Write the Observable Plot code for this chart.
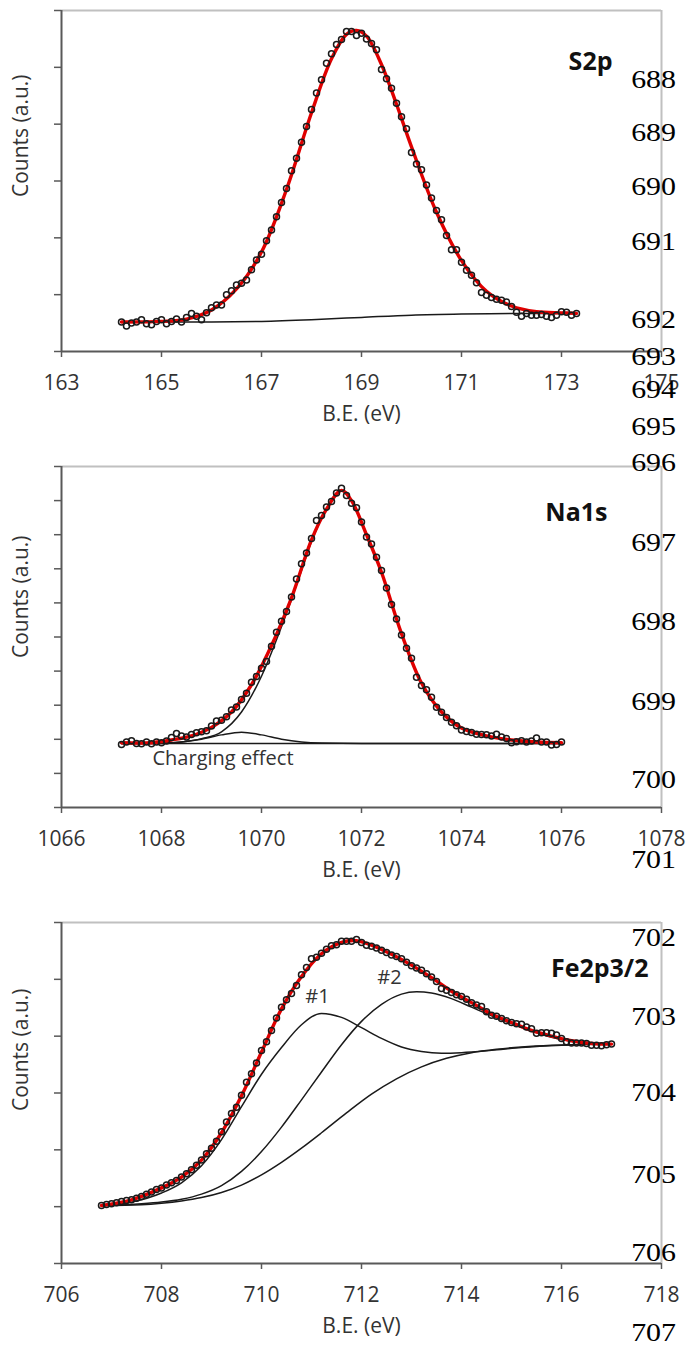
<!DOCTYPE html>
<html><head><meta charset="utf-8">
<script src="https://cdn.jsdelivr.net/npm/d3@7"></script>
<script src="https://cdn.jsdelivr.net/npm/@observablehq/plot@0.6"></script>
<style>
html,body{margin:0;padding:0;background:#fff;}
#wrap{position:relative;width:688px;height:1349px;overflow:hidden;}
#wrap svg{display:block;}
.ln{position:absolute;right:12px;font-family:"Liberation Serif","Times New Roman",serif;font-size:26px;line-height:26px;color:#000;transform:translateY(-50%) scaleX(1.15);transform-origin:right center;white-space:nowrap;}
</style></head><body><div id="wrap"></div>
<script>
// ---------- S2p ----------
const s2pPoints = [[164.2,0.52],[164.3,0.45],[164.4,0.50],[164.5,0.52],[164.6,0.56],[164.7,0.49],[164.8,0.47],[164.9,0.53],[165.0,0.56],[165.1,0.49],[165.2,0.53],[165.3,0.57],[165.4,0.52],[165.5,0.60],[165.6,0.67],[165.7,0.62],[165.8,0.56],[165.9,0.68],[166.0,0.77],[166.1,0.82],[166.2,0.82],[166.3,1.00],[166.4,1.07],[166.5,1.17],[166.6,1.20],[166.7,1.26],[166.8,1.44],[166.9,1.61],[167.0,1.71],[167.1,1.95],[167.2,2.14],[167.3,2.37],[167.4,2.62],[167.5,2.87],[167.6,3.18],[167.7,3.40],[167.8,3.68],[167.9,3.96],[168.0,4.26],[168.1,4.55],[168.2,4.78],[168.3,5.07],[168.4,5.24],[168.5,5.40],[168.6,5.49],[168.7,5.63],[168.8,5.63],[168.9,5.56],[169.0,5.60],[169.1,5.50],[169.2,5.42],[169.3,5.31],[169.4,4.96],[169.5,4.80],[169.6,4.63],[169.7,4.37],[169.8,4.13],[169.9,3.92],[170.0,3.50],[170.1,3.30],[170.2,3.20],[170.3,2.93],[170.4,2.70],[170.5,2.48],[170.6,2.32],[170.7,2.04],[170.8,1.79],[170.9,1.79],[171.0,1.57],[171.1,1.43],[171.2,1.34],[171.3,1.21],[171.4,1.04],[171.5,0.99],[171.6,0.95],[171.7,0.92],[171.8,0.90],[171.9,0.87],[172.0,0.79],[172.1,0.69],[172.2,0.62],[172.3,0.67],[172.4,0.64],[172.5,0.64],[172.6,0.65],[172.7,0.62],[172.8,0.60],[172.9,0.64],[173.0,0.70],[173.1,0.69],[173.2,0.64],[173.3,0.67]];
const s2pFit = [[164.2,0.52],[165.0,0.53],[165.5,0.57],[166.0,0.73],[166.5,1.1],[167.0,1.75],[167.5,2.85],[168.0,4.2],[168.4,5.15],[168.7,5.58],[168.9,5.65],[169.1,5.55],[169.4,5.05],[169.7,4.35],[170.0,3.6],[170.5,2.45],[171.0,1.6],[171.5,1.06],[172.0,0.8],[172.5,0.7],[173.0,0.68],[173.3,0.67]];
const s2pBackground = [[164.2,0.52],[166.0,0.52],[167.0,0.53],[168.0,0.56],[169.0,0.60],[170.0,0.64],[171.0,0.66],[172.0,0.67],[173.3,0.67]];
const s2pXTicks = [163,165,167,169,171,173,175];

// ---------- Na1s ----------
const na1sPoints = [[1067.2,1.85],[1067.3,1.92],[1067.4,1.96],[1067.5,1.88],[1067.6,1.87],[1067.7,1.92],[1067.8,1.87],[1067.9,1.92],[1068.0,1.90],[1068.1,1.95],[1068.2,2.05],[1068.3,2.17],[1068.4,2.10],[1068.5,2.07],[1068.6,2.14],[1068.7,2.19],[1068.8,2.22],[1068.9,2.25],[1069.0,2.39],[1069.1,2.54],[1069.2,2.56],[1069.3,2.66],[1069.4,2.86],[1069.5,2.95],[1069.6,3.17],[1069.7,3.35],[1069.8,3.67],[1069.9,3.84],[1070.0,4.08],[1070.1,4.28],[1070.2,4.73],[1070.3,5.14],[1070.4,5.46],[1070.5,5.75],[1070.6,6.17],[1070.7,6.70],[1070.8,7.15],[1070.9,7.46],[1071.0,7.89],[1071.1,8.42],[1071.2,8.56],[1071.3,8.81],[1071.4,8.97],[1071.5,9.22],[1071.6,9.36],[1071.7,9.15],[1071.8,8.92],[1071.9,8.79],[1072.0,8.37],[1072.1,7.93],[1072.2,7.73],[1072.3,7.34],[1072.4,6.95],[1072.5,6.44],[1072.6,5.95],[1072.7,5.53],[1072.8,5.06],[1072.9,4.67],[1073.0,4.38],[1073.1,3.82],[1073.2,3.58],[1073.3,3.45],[1073.4,3.23],[1073.5,2.94],[1073.6,2.79],[1073.7,2.64],[1073.8,2.50],[1073.9,2.40],[1074.0,2.27],[1074.1,2.23],[1074.2,2.20],[1074.3,2.15],[1074.4,2.14],[1074.5,2.13],[1074.6,2.10],[1074.7,2.15],[1074.8,2.07],[1074.9,2.02],[1075.0,1.90],[1075.1,1.93],[1075.2,1.96],[1075.3,1.92],[1075.4,1.95],[1075.5,2.04],[1075.6,1.92],[1075.7,1.92],[1075.8,1.83],[1075.9,1.85],[1076.0,1.92]];
const na1sFit = [[1067.2,1.9],[1067.8,1.9],[1068.2,1.98],[1068.6,2.1],[1069.0,2.35],[1069.4,2.8],[1069.8,3.6],[1070.2,4.75],[1070.6,6.15],[1071.0,7.85],[1071.3,8.75],[1071.6,9.3],[1071.8,9.0],[1072.1,8.0],[1072.4,6.9],[1072.8,5.1],[1073.2,3.65],[1073.6,2.8],[1074.0,2.33],[1074.5,2.1],[1075.0,1.98],[1075.5,1.92],[1076.0,1.9]];
const na1sMain = [[1067.2,1.88],[1068.0,1.88],[1068.4,1.92],[1068.8,2.02],[1069.2,2.22],[1069.6,2.8],[1070.0,3.85],[1070.4,5.3],[1070.8,6.95],[1071.0,7.8],[1071.3,8.75],[1071.6,9.3],[1071.8,9.0],[1072.1,8.0],[1072.4,6.9],[1072.8,5.1],[1073.2,3.65],[1073.6,2.8],[1074.0,2.33],[1074.5,2.1],[1075.0,1.98],[1075.5,1.92],[1076.0,1.9]];
const na1sCharging = [[1067.2,1.88],[1068.0,1.89],[1068.4,1.92],[1068.8,2.0],[1069.2,2.13],[1069.6,2.21],[1070.0,2.13],[1070.4,2.0],[1070.8,1.92],[1071.2,1.89],[1072.0,1.88],[1076.0,1.88]];
const na1sBackground = [[1067.2,1.88],[1076.0,1.88]];
const na1sXTicks = [1066,1068,1070,1072,1074,1076,1078];

// ---------- Fe2p3/2 ----------
const fePoints = [[706.8,1.02],[706.9,1.04],[707.0,1.05],[707.1,1.07],[707.2,1.09],[707.3,1.11],[707.4,1.12],[707.5,1.15],[707.6,1.18],[707.7,1.22],[707.8,1.26],[707.9,1.30],[708.0,1.33],[708.1,1.38],[708.2,1.42],[708.3,1.46],[708.4,1.52],[708.5,1.58],[708.6,1.65],[708.7,1.73],[708.8,1.82],[708.9,1.93],[709.0,2.03],[709.1,2.15],[709.2,2.32],[709.3,2.49],[709.4,2.64],[709.5,2.75],[709.6,2.96],[709.7,3.19],[709.8,3.34],[709.9,3.53],[710.0,3.75],[710.1,3.90],[710.2,4.10],[710.3,4.32],[710.4,4.51],[710.5,4.64],[710.6,4.75],[710.7,4.89],[710.8,5.08],[710.9,5.21],[711.0,5.36],[711.1,5.39],[711.2,5.46],[711.3,5.53],[711.4,5.59],[711.5,5.61],[711.6,5.67],[711.7,5.67],[711.8,5.67],[711.9,5.70],[712.0,5.65],[712.1,5.60],[712.2,5.58],[712.3,5.55],[712.4,5.51],[712.5,5.47],[712.6,5.43],[712.7,5.40],[712.8,5.36],[712.9,5.30],[713.0,5.24],[713.1,5.20],[713.2,5.16],[713.3,5.10],[713.4,5.04],[713.5,4.96],[713.6,4.84],[713.7,4.81],[713.8,4.77],[713.9,4.73],[714.0,4.70],[714.1,4.65],[714.2,4.59],[714.3,4.55],[714.4,4.52],[714.5,4.43],[714.6,4.37],[714.7,4.35],[714.8,4.31],[714.9,4.27],[715.0,4.24],[715.1,4.22],[715.2,4.21],[715.3,4.16],[715.4,4.13],[715.5,4.05],[715.6,4.06],[715.7,4.06],[715.8,4.05],[715.9,4.02],[716.0,3.96],[716.1,3.90],[716.2,3.88],[716.3,3.88],[716.4,3.88],[716.5,3.87],[716.6,3.84],[716.7,3.84],[716.8,3.83],[716.9,3.85],[717.0,3.86]];
const feFit = [[706.8,1.02],[707.4,1.12],[708.0,1.33],[708.4,1.52],[708.8,1.82],[709.2,2.3],[709.6,2.95],[710.0,3.72],[710.4,4.48],[710.8,5.05],[711.2,5.45],[711.6,5.65],[711.9,5.68],[712.2,5.6],[712.6,5.44],[713.0,5.25],[713.4,5.03],[713.8,4.79],[714.2,4.59],[714.6,4.39],[715.0,4.24],[715.4,4.1],[715.8,4.0],[716.2,3.92],[716.6,3.87],[717.0,3.86]];
const fePeak1 = [[706.8,1.02],[707.4,1.08],[708.0,1.24],[708.4,1.42],[708.8,1.72],[709.2,2.18],[709.6,2.76],[710.0,3.33],[710.4,3.8],[710.8,4.2],[711.2,4.4],[711.6,4.33],[712.0,4.15],[712.4,3.96],[712.8,3.81],[713.2,3.73],[713.6,3.7],[714.0,3.71],[714.6,3.75],[715.2,3.8],[716.0,3.84],[717.0,3.86]];
const fePeak2 = [[706.8,1.02],[707.6,1.05],[708.0,1.08],[708.4,1.13],[708.8,1.22],[709.2,1.37],[709.6,1.62],[710.0,1.97],[710.4,2.4],[710.8,2.88],[711.2,3.37],[711.6,3.85],[712.0,4.26],[712.4,4.56],[712.8,4.74],[713.1,4.78],[713.4,4.76],[713.8,4.66],[714.2,4.51],[714.6,4.36],[715.0,4.22],[715.4,4.09],[715.8,3.98],[716.2,3.91],[716.6,3.87],[717.0,3.86]];
const feBackground = [[706.8,1.02],[707.6,1.035],[708.0,1.06],[708.4,1.1],[708.8,1.16],[709.2,1.25],[709.6,1.38],[710.0,1.56],[710.4,1.78],[710.8,2.03],[711.2,2.3],[711.7,2.65],[712.2,2.98],[712.7,3.25],[713.2,3.46],[713.7,3.61],[714.2,3.71],[714.7,3.77],[715.2,3.81],[715.8,3.84],[716.4,3.855],[717.0,3.86]];
const feXTicks = [706,708,710,712,714,716,718];

// stray line numbers on the right margin of the source page
const lineNumbers = ["688","689","690","691","692","693","694","695","696","697","698","699","700","701","702","703","704","705","706","707"];

// ---------- layout (not data) ----------
const lineNumberY = [80,133,187,242,320,357,390,427,463,543,622,702,780,860,938,1017,1093,1175,1253,1333];
const FONT = "'Open Sans', 'Liberation Sans', sans-serif";
const X = d => d[0], Y = d => d[1];

function panel(o) {
  const marks = [
    Plot.ruleY([o.yMax], {stroke: "#c0c0c0", strokeWidth: 2}),
    Plot.ruleX([o.xDomain[1]], {stroke: "#c0c0c0", strokeWidth: 2}),
    Plot.axisY({ticks: d3.range(0, o.yMax + 1), tickSize: 7, tickFormat: () => "", stroke: "#595959", strokeWidth: 1.5, label: null}),
    Plot.axisX({ticks: o.xTicks, tickSize: 6, tickPadding: 18, stroke: "#595959", strokeWidth: 1.5, fill: "#333", fontSize: 21, label: null, tickFormat: d => String(d)}),
    Plot.ruleX([o.xDomain[0]], {stroke: "#595959", strokeWidth: 2}),
    Plot.ruleY([0], {stroke: "#595959", strokeWidth: 2}),
  ];
  for (const ln of o.lines) marks.push(Plot.line(ln, {x: X, y: Y, curve: "monotone-x", stroke: "#1a1a1a", strokeWidth: 1.5}));
  marks.push(Plot.line(o.fit, {x: X, y: Y, curve: "catmull-rom", stroke: "#e00000", strokeWidth: 3.4}));
  marks.push(Plot.dot(o.points, {x: X, y: Y, r: 3, stroke: "#1a1a1a", strokeWidth: 1.5, fill: "none"}));
  marks.push(Plot.text(["B.E. (eV)"], {frameAnchor: "bottom", dy: 69, fontSize: 21, fill: "#333"}));
  marks.push(Plot.text(["Counts (a.u.)"], {frameAnchor: "left", dx: -40, dy: o.ylabelDy, rotate: -90, fontSize: 21, fill: "#333"}));
  marks.push(Plot.text([o.title], {frameAnchor: "top-right", dx: o.titleDx, dy: o.titleDy, textAnchor: "end", fontWeight: "bold", fontSize: 25, fill: "#111"}));
  for (const a of (o.notes || [])) marks.push(Plot.text([a], {x: "x", y: "y", text: "text", textAnchor: a.anchor || "middle", fontSize: 20, fill: "#333"}));
  return Plot.plot({
    width: 688, height: 456,
    marginLeft: 61, marginRight: 27, marginTop: 10, marginBottom: 105,
    style: {fontFamily: FONT, background: "transparent", overflow: "visible"},
    x: {domain: o.xDomain},
    y: {domain: [0, o.yMax]},
    marks
  });
}

const wrap = document.getElementById("wrap");
wrap.append(panel({xDomain: [163, 175], xTicks: s2pXTicks, yMax: 6, points: s2pPoints, fit: s2pFit, lines: [s2pBackground], title: "S2p", titleDx: -49, titleDy: 42, ylabelDy: 16}));
wrap.append(panel({xDomain: [1066, 1078], xTicks: na1sXTicks, yMax: 10, points: na1sPoints, fit: na1sFit, lines: [na1sBackground, na1sCharging, na1sMain], title: "Na1s", titleDx: -54, titleDy: 37, ylabelDy: 21,
  notes: [{x: 1067.82, y: 1.44, text: "Charging effect", anchor: "start"}]}));
wrap.append(panel({xDomain: [706, 718], xTicks: feXTicks, yMax: 6, points: fePoints, fit: feFit, lines: [feBackground, fePeak1, fePeak2], title: "Fe2p3/2", titleDx: -13, titleDy: 37, ylabelDy: 18,
  notes: [{x: 711.12, y: 4.69, text: "#1"}, {x: 712.56, y: 5.03, text: "#2"}]}));

lineNumbers.forEach((t, i) => {
  const s = document.createElement("div");
  s.className = "ln";
  s.textContent = t;
  s.style.top = lineNumberY[i] + "px";
  wrap.append(s);
});
</script></body></html>
